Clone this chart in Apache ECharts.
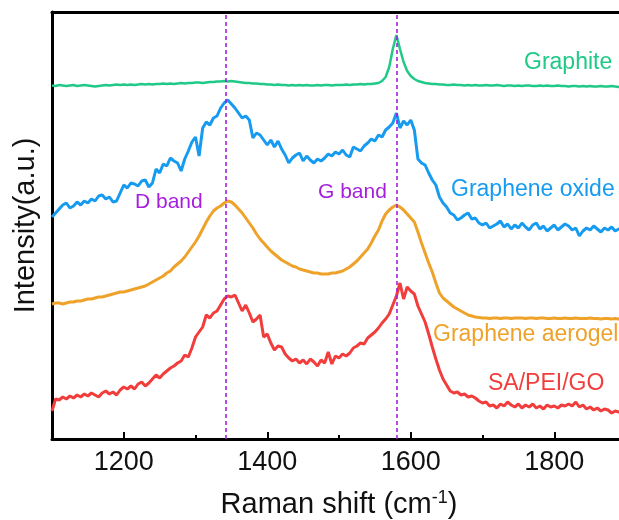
<!DOCTYPE html>
<html><head><meta charset="utf-8">
<script src="https://cdn.jsdelivr.net/npm/echarts@6/dist/echarts.min.js"></script>
<style>html,body{margin:0;padding:0;background:#fff}#c{width:619px;height:520px}</style>
</head><body><div id="c"></div>
<script>
// Raman shift sampling (cm-1)
var ramanShift = [1100,1105,1110,1115,1120,1125,1130,1135,1140,1145,1150,1155,1160,1165,1170,1175,1180,1185,1190,1195,
1200,1205,1210,1215,1220,1225,1230,1235,1240,1245,1250,1255,1260,1265,1270,1275,1280,1285,1290,1295,
1300,1305,1310,1315,1320,1325,1330,1335,1340,1345,1350,1355,1360,1365,1370,1375,1380,1385,1390,1395,
1400,1405,1410,1415,1420,1425,1430,1435,1440,1445,1450,1455,1460,1465,1470,1475,1480,1485,1490,1495,
1500,1505,1510,1515,1520,1525,1530,1535,1540,1545,1550,1555,1560,1565,1570,1575,1580,1585,1590,1595,
1600,1605,1610,1615,1620,1625,1630,1635,1640,1645,1650,1655,1660,1665,1670,1675,1680,1685,1690,1695,
1700,1705,1710,1715,1720,1725,1730,1735,1740,1745,1750,1755,1760,1765,1770,1775,1780,1785,1790,1795,
1800,1805,1810,1815,1820,1825,1830,1835,1840,1845,1850,1855,1860,1865,1870,1875,1880,1885,1890,1895,1900];

// Intensities (a.u., stacked offsets included)
var graphite = [353.5,353,354,353.5,353,353.5,354,353,353.5,354,353.5,353,352.5,353,353.5,354,353.5,354,354.5,354,
354.5,354,354.5,354,354.5,355,354.5,355,354.5,355,355,355.5,355,355.5,355,355.5,356,355.5,356,356,
356.5,356.5,356,356.5,357,357,357.5,357.5,358,357.5,358,357.5,357,356.5,356,356,355.5,355.5,355,355,
354.5,354.5,354,354.5,354,354,353.5,354,353.5,354,353.5,354,353.5,353.5,354,353.5,354,354,353.5,354,
354,354,354.5,354,354.5,354.5,355,354.5,355,355,355.5,356,358,362,372,390,404,390,377,368,
363,360,358,357,356,355.5,355,355,354.5,354.5,354,354,354.5,354,354,353.5,354,353.5,354,353.5,
353.5,354,353.5,353.5,354,353.5,353,353.5,353.5,353,353.5,353,353.5,353.5,353,353,353.5,353,353.5,353,
353,353.5,353,353,352.5,353,353,352.5,353,352.5,353,352.5,352.5,353,352.5,352.5,353,352.5,352,352.5,352.5];

var grapheneOxide = [222,226,230,234,236,231,233,237,234,238,236,240,238,243,244,240,242,237,238,246,
254,251,256,255,253,258,259,252,256,270,266,275,273,281,278,276,268,280,288,297,
302,283,311,317,314,321,323,331,336,339,335,331,326,321,323,319,301,306,304,299,
294,299,292,298,290,284,276,281,284,286,278,283,279,276,280,278,281,285,283,287,
285,289,284,282,292,290,288,293,296,300,298,304,302,309,312,316,326,311,318,314,
319,309,280,276,274,266,259,254,242,236,232,226,224,219,221,224,226,220,221,216,
214,216,211,213,215,218,212,215,210,214,211,216,212,209,214,216,210,213,208,211,
214,209,212,215,213,209,211,203,208,211,209,213,210,207,211,209,212,208,210,211,209];

var grapheneAerogel = [135,136,136,135,136,137,137,138,138,139,140,140,141,142,142,143,144,145,146,147,
147,148,149,150,151,152,153,155,157,159,161,163,166,168,172,175,178,182,187,192,
197,203,210,217,223,228,231,233,236,238,237,234,230,226,221,216,211,205,200,196,
192,188,185,182,179,177,175,173,172,170,169,168,167,166,166,165,165,165,166,166,
167,168,170,172,175,178,182,186,190,196,203,209,218,225,229,232,234,232,229,225,
221,217,207,196,186,176,167,156,146,141,138,135,132,130,128,126,124,123,122,121.5,
121,121,120.5,121,121,120.5,121,121,120.5,121,121,121,120.5,121,121,120.5,121,121,120.5,120.5,
121,120.5,120.5,121,120.5,120.5,121,120.5,120.5,120.5,121,120.5,120.5,120,120.5,120.5,120,120.5,120,120.5,120];

var saPeiGo = [28,40,39,42,40,43,41,44,42,45,43,46,44,42,46,48,45,47,44,49,
52,50,53,50,55,57,53,56,60,64,61,65,68,71,73,76,78,84,82,91,
102,107,112,124,121,126,128,134,140,143,142,144,136,128,134,126,117,120,124,102,
105,96,89,93,92,85,81,78,80,76,79,75,80,77,73,79,76,87,75,83,
81,85,83,86,91,93,96,95,101,104,107,111,116,120,125,134,143,156,140,152,
148,145,133,125,117,105,92,80,69,60,54,48,46,47,44,45,42,43,41,38,
36,37,33,34,31,35,33,37,34,32,35,31,34,32,35,31,33,30,34,32,
33,31,34,33,35,33,37,32,34,30,32,29,31,28,30,29,26,28,27,29,27];

var bandPositions = [1342, 1580];
var xTickLabels = [1200, 1400, 1600, 1800];
var xMinorTicks = [1300, 1500, 1700, 1900];

function pairs(ys){ return ramanShift.map(function(x,i){ return [x, ys[i]]; }); }

var colors = {green:'#20c987', blue:'#169bf0', orange:'#eea22a', red:'#f23d3d', purple:'#a51fdc'};
var FONT = '"Liberation Sans", Arial, sans-serif';

var chart = echarts.init(document.getElementById('c'), null, {renderer:'canvas'});
chart.setOption({
  animation:false,
  backgroundColor:'#fff',
  grid:{left:52, top:12, width:574, height:427, show:false, containLabel:false, outerBoundsMode:'none'},
  xAxis:[{
    type:'value', min:1100, max:1900, position:'bottom',
    axisLine:{show:true, onZero:false, lineStyle:{color:'#000', width:3}},
    axisTick:{show:true, inside:true, length:7, lineStyle:{color:'#000', width:2}, customValues:xTickLabels},
    axisLabel:{show:true, color:'#111', fontSize:27, fontFamily:FONT, margin:10, customValues:xTickLabels,
      formatter:function(v){ return String(v); }},
    splitLine:{show:false},
    name:'{a|Raman shift (cm}{s|-1}{a|)}',
    nameLocation:'middle', nameGap:50,
    nameTextStyle:{rich:{
      a:{fontSize:29, fontFamily:FONT, color:'#111', lineHeight:32},
      s:{fontSize:18, fontFamily:FONT, color:'#111', verticalAlign:'top', lineHeight:20}
    }}
  },{
    type:'value', min:1100, max:1900, position:'bottom',
    axisLine:{show:false, onZero:false},
    axisTick:{show:true, inside:true, length:4, lineStyle:{color:'#000', width:2}, customValues:xMinorTicks},
    axisLabel:{show:false}, splitLine:{show:false}
  },{
    type:'value', min:1100, max:1900, position:'top',
    axisLine:{show:true, onZero:false, lineStyle:{color:'#000', width:3}},
    axisTick:{show:false}, axisLabel:{show:false}, splitLine:{show:false}
  }],
  yAxis:{
    type:'value', min:0, max:427,
    axisLine:{show:true, onZero:false, lineStyle:{color:'#000', width:3}},
    axisTick:{show:false}, axisLabel:{show:false}, splitLine:{show:false},
    name:'Intensity(a.u.)', nameLocation:'middle', nameGap:12,
    nameTextStyle:{fontSize:29, fontFamily:FONT, color:'#111'}
  },
  series:[
    {type:'line', name:'Graphite', data:pairs(graphite), showSymbol:false, lineStyle:{color:colors.green, width:2.5}, itemStyle:{color:colors.green},
      markLine:{silent:true, symbol:['none','none'], label:{show:false},
        lineStyle:{color:colors.purple, type:[4,3], width:1.6},
        data:bandPositions.map(function(v){return {xAxis:v};})}},
    {type:'line', name:'Graphene oxide', data:pairs(grapheneOxide), showSymbol:false, lineStyle:{color:colors.blue, width:3}, itemStyle:{color:colors.blue}},
    {type:'line', name:'Graphene aerogel', data:pairs(grapheneAerogel), showSymbol:false, lineStyle:{color:colors.orange, width:3}, itemStyle:{color:colors.orange}},
    {type:'line', name:'SA/PEI/GO', data:pairs(saPeiGo), showSymbol:false, lineStyle:{color:colors.red, width:3}, itemStyle:{color:colors.red}}
  ],
  graphic:[
    {type:'text', left:524, top:51, style:{text:'Graphite', fill:colors.green, font:'23px '+FONT}},
    {type:'text', left:451, top:178, style:{text:'Graphene oxide', fill:colors.blue, font:'23px '+FONT}},
    {type:'text', left:135, top:192, style:{text:'D band', fill:colors.purple, font:'21px '+FONT}},
    {type:'text', left:318, top:182, style:{text:'G band', fill:colors.purple, font:'21px '+FONT}},
    {type:'text', left:433, top:323, style:{text:'Graphene aerogel', fill:colors.orange, font:'23px '+FONT}},
    {type:'text', left:488, top:372, style:{text:'SA/PEI/GO', fill:colors.red, font:'23px '+FONT}}
  ]
});
</script></body></html>
